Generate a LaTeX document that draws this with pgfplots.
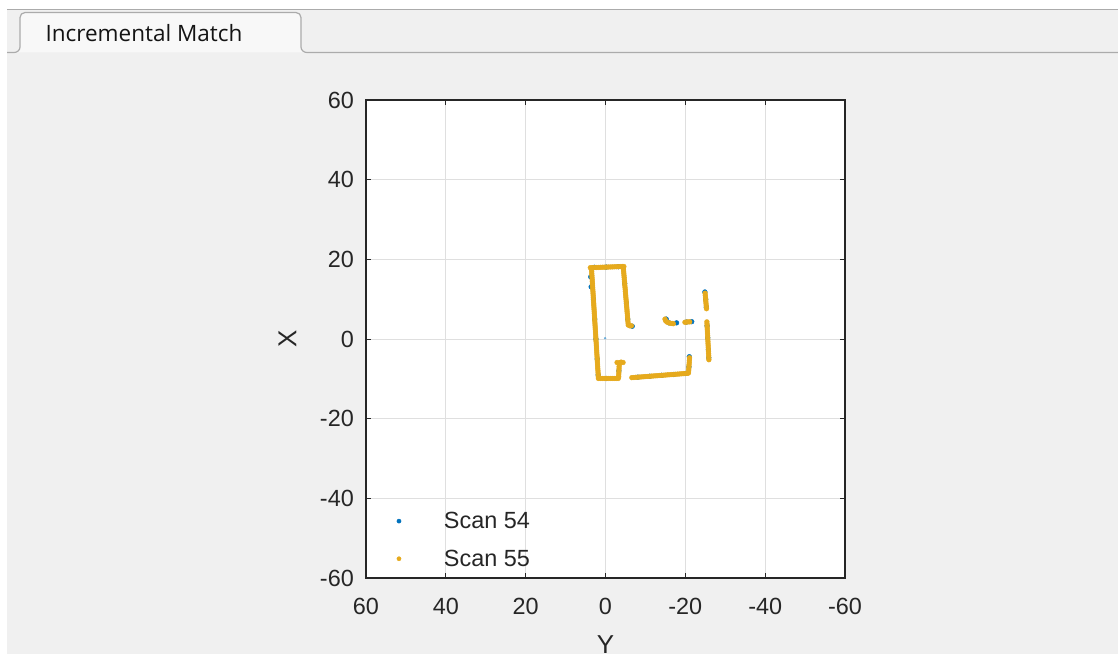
\documentclass[border=0pt]{standalone}
\usepackage{pgfplots}
\pgfplotsset{compat=1.18}
\usepackage{fontspec}
\setmainfont{Liberation Sans}
\newfontfamily\tabfont{Open Sans}
\definecolor{mblue}{HTML}{0072BD}
\definecolor{myellow}{HTML}{E6AA1D}
\definecolor{figbg}{HTML}{F0F0F0}
\definecolor{axcol}{HTML}{262626}
\definecolor{gridcol}{HTML}{DFDFDF}
\definecolor{tabline}{HTML}{ABABAB}
\definecolor{tabfill}{HTML}{F8F8F8}
\definecolor{tabtext}{HTML}{141414}

\begin{document}
\begin{tikzpicture}
\clip (0bp,0bp) rectangle (1118bp,654bp);
\begin{scope}[x=1bp,y=1bp]
\fill[white] (0,0) rectangle (1118,654);
\fill[figbg] (7,0) rectangle (1118,645);
% tab
\fill[tabfill] (14,601.5) to[out=0,in=-90] (20,607) -- (20,636.5) to[out=90,in=180] (25,641.5) -- (296,641.5) to[out=0,in=90] (301,636.5) -- (301,607) to[out=-90,in=180] (307,601.5) -- cycle;
\draw[tabline, line width=1.2bp] (7,601.5) -- (14,601.5) to[out=0,in=-90] (20,607) -- (20,636.5) to[out=90,in=180] (25,641.5) -- (296,641.5) to[out=0,in=90] (301,636.5) -- (301,607) to[out=-90,in=180] (307,601.5) -- (1118,601.5);
\draw[tabline, line width=1.5bp] (7,644.5) -- (1118,644.5);
\node[anchor=center, text=tabtext, font=\tabfont\fontsize{22.6}{27}\selectfont, inner sep=0pt] at (144,621) {Incremental Match};
\end{scope}

\begin{axis}[
  at={(366bp,76bp)}, anchor=south west,
  width=479bp, height=478bp, scale only axis,
  xmin=-60, xmax=60, ymin=-60, ymax=60, x dir=reverse,
  xtick={-60,-40,...,60}, ytick={-60,-40,...,60},
  grid=major, grid style={gridcol, line width=0.8bp},
  axis line style={axcol, line width=1.1bp},
  tick style={axcol, line width=0.9bp},
  major tick length=5bp, tick align=inside,
  xtick pos=both, ytick pos=both,
  axis background/.style={fill=white},
  /pgf/number format/assume math mode=true,
  ticklabel style={font=\fontsize{23.5}{28}\selectfont, text=axcol, inner sep=0pt},
  yticklabel style={anchor=east, xshift=-12bp},
  xticklabel style={anchor=north, yshift=-20bp},
  xlabel={Y}, ylabel={X},
  label style={font=\fontsize{26}{31}\selectfont, text=axcol, inner sep=0pt},
  xlabel style={at={(axis description cs:0.5,0)}, anchor=center, yshift=-67bp},
  ylabel style={at={(axis description cs:0,0.5)}, anchor=center, yshift=78.5bp},
  legend cell align=left,
  legend style={draw=none, fill=none, inner sep=0pt, outer sep=0pt,
    at={(rel axis cs:0.048,0.0216)}, anchor=south west,
    font=\fontsize{23.5}{28}\selectfont, text=axcol,
    row sep=19.8bp, column sep=0pt,
    nodes={inner sep=0pt}},
  legend image code/.code={\path[draw=none, fill=none] (-10bp,-8.5bp) rectangle (45bp,8.5bp); \draw[#1, mark size=2.1bp] plot coordinates {(0bp,0bp)};},
]
% Scan 54
\addplot[color=mblue, only marks, mark=*, mark size=2.4bp, mark options={draw=none, fill=mblue}] coordinates {
(3.7,15.6) (3.6,13.1) (-24.9,11.8) (-17.8,4.05) (-15.2,5.0) (-21.6,4.35) (-21.0,-4.45) (-6.7,3.2)
(2.8,18.0) (-0.2,18.05) (-3.2,18.15) (3.03,10) (2.71,5) (2.40,0) (2.08,-5) (1.83,-9) (-0.2,-9.9) (-3.35,-8)
(-4.80,14) (-5.23,9) (-5.57,5) (-8.1,-9.58) (-11.1,-9.35) (-14.1,-9.12) (-17.1,-8.89) (-20.1,-8.65) (-20.9,-7)
(-25.1,10) (-25.26,8) (-25.45,3.3) (-25.61,0.3) (-25.77,-2.7) (-25.88,-4.7) (-15.9,4.05) (-20.3,4.25)
};
\addlegendentry{Scan 54}
% Scan 55
\addplot[color=myellow, only marks, mark=*, mark size=2.4bp, mark options={draw=none, fill=myellow}] coordinates {
(3.8,17.9) (3.3,17.92) (2.8,17.94) (2.3,17.95) (1.8,17.97) (1.3,17.99) (0.8,18.01) (0.3,18.03) (-0.2,18.05) (-0.7,18.07) (-1.2,18.09) (-1.7,18.1) (-2.2,18.12) (-2.7,18.14) (-3.2,18.16) (-3.7,18.18) (-4.2,18.2) (-4.6,18.2)
(3.50,17.5) (3.47,17) (3.44,16.5) (3.41,16) (3.37,15.5) (3.34,15) (3.31,14.5) (3.28,14) (3.25,13.5) (3.22,13) (3.19,12.5) (3.15,12) (3.12,11.5) (3.09,11) (3.06,10.5) (3.03,10) (3.00,9.5) (2.96,9) (2.93,8.5) (2.90,8) (2.87,7.5) (2.84,7) (2.81,6.5) (2.78,6) (2.74,5.5) (2.71,5) (2.68,4.5) (2.65,4) (2.62,3.5) (2.59,3) (2.56,2.5) (2.52,2) (2.49,1.5) (2.46,1) (2.43,0.5) (2.40,0) (2.37,-0.5) (2.33,-1) (2.30,-1.5) (2.27,-2) (2.24,-2.5) (2.21,-3) (2.18,-3.5) (2.15,-4) (2.11,-4.5) (2.08,-5) (2.05,-5.5) (2.02,-6) (1.99,-6.5) (1.96,-7) (1.93,-7.5) (1.89,-8) (1.86,-8.5) (1.83,-9) (1.80,-9.5) (1.78,-9.9)
(1.3,-9.9) (0.8,-9.9) (0.3,-9.9) (-0.2,-9.9) (-0.7,-9.9) (-1.2,-9.9) (-1.7,-9.9) (-2.2,-9.9) (-2.7,-9.9) (-3.2,-9.9)
(-3.3,-9.5) (-3.3,-9.0) (-3.35,-8.5) (-3.35,-8.0) (-3.4,-7.5) (-3.4,-7.0) (-3.45,-6.5) (-3.45,-6.0) (-2.9,-5.9) (-3.9,-5.8) (-4.4,-5.9)
(-4.5,17.9) (-4.50,17.5) (-4.54,17) (-4.59,16.5) (-4.63,16) (-4.67,15.5) (-4.71,15) (-4.76,14.5) (-4.80,14) (-4.84,13.5) (-4.89,13) (-4.93,12.5) (-4.97,12) (-5.01,11.5) (-5.06,11) (-5.10,10.5) (-5.14,10) (-5.19,9.5) (-5.23,9) (-5.27,8.5) (-5.31,8) (-5.36,7.5) (-5.40,7) (-5.44,6.5) (-5.49,6) (-5.53,5.5) (-5.57,5) (-5.61,4.5) (-5.66,4) (-5.70,3.5) (-6.1,3.3) (-6.5,3.3)
(-6.6,-9.70) (-7.1,-9.66) (-7.6,-9.62) (-8.1,-9.58) (-8.6,-9.55) (-9.1,-9.51) (-9.6,-9.47) (-10.1,-9.43) (-10.6,-9.39) (-11.1,-9.35) (-11.6,-9.31) (-12.1,-9.27) (-12.6,-9.24) (-13.1,-9.20) (-13.6,-9.16) (-14.1,-9.12) (-14.6,-9.08) (-15.1,-9.04) (-15.6,-9.00) (-16.1,-8.96) (-16.6,-8.93) (-17.1,-8.89) (-17.6,-8.85) (-18.1,-8.81) (-18.6,-8.77) (-19.1,-8.73) (-19.6,-8.69) (-20.1,-8.65) (-20.6,-8.62)
(-20.8,-8.5) (-20.83,-8) (-20.87,-7.5) (-20.9,-7) (-20.93,-6.5) (-20.97,-6) (-21.0,-5.5) (-21.03,-5) (-21.05,-4.7)
(-14.9,5.0) (-15.1,4.5) (-15.5,4.2) (-15.9,4.05) (-16.3,3.95) (-16.7,3.9) (-17.0,3.85)
(-19.9,4.2) (-20.3,4.25) (-20.7,4.3) (-21.1,4.3)
(-24.95,11.5) (-25.0,11) (-25.05,10.5) (-25.1,10) (-25.13,9.5) (-25.17,9) (-25.22,8.5) (-25.26,8) (-25.3,7.6)
(-25.40,4.3) (-25.43,3.8) (-25.45,3.3) (-25.48,2.8) (-25.51,2.3) (-25.53,1.8) (-25.56,1.3) (-25.59,0.8) (-25.61,0.3) (-25.64,-0.2) (-25.67,-0.7) (-25.69,-1.2) (-25.72,-1.7) (-25.75,-2.2) (-25.77,-2.7) (-25.80,-3.2) (-25.83,-3.7) (-25.85,-4.2) (-25.88,-4.7) (-25.90,-5.2)
};
\addlegendentry{Scan 55}
% sensor origin
\addplot[color=mblue!60, only marks, mark=*, mark size=1bp, mark options={draw=none, fill=mblue!60}, forget plot] coordinates {(0.1,0.2)};
\end{axis}
\end{tikzpicture}
\end{document}
